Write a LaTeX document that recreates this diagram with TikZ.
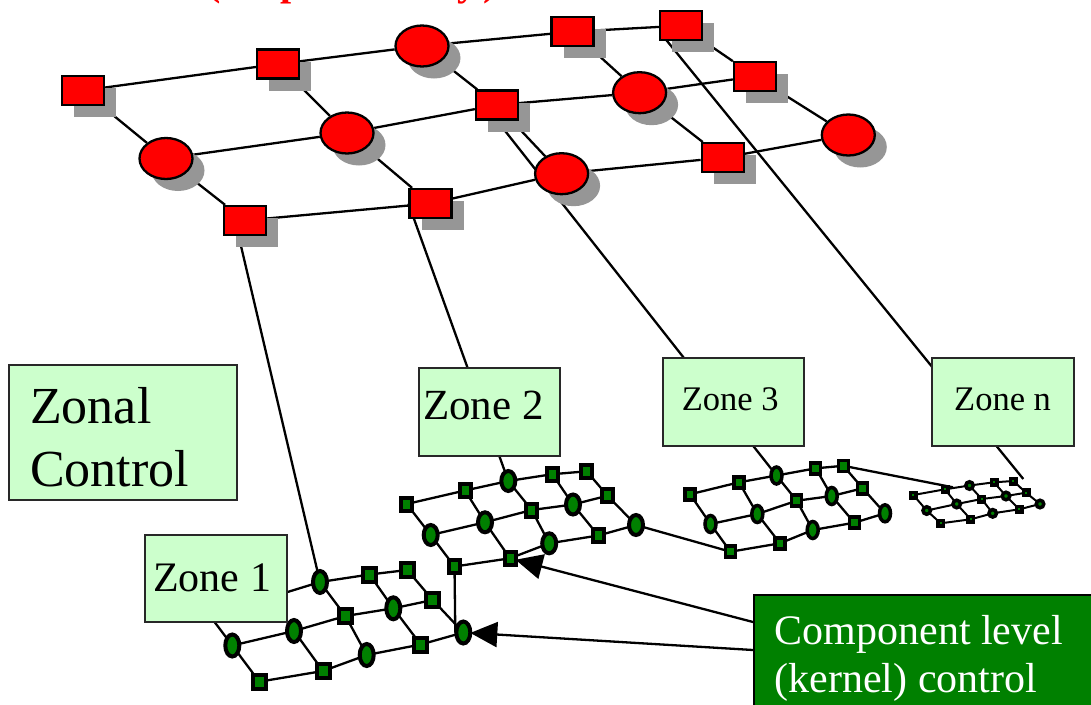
\documentclass[tikz,border=0pt]{standalone}
\usepackage{fontspec}
\setmainfont{Liberation Serif}
\usetikzlibrary{shadows,arrows.meta,shapes.geometric}
\definecolor{nodered}{RGB}{255,0,0}
\definecolor{shadowgray}{RGB}{150,150,150}
\definecolor{kernelgreen}{RGB}{0,128,0}
\definecolor{zonefill}{RGB}{204,255,204}
\definecolor{zoneedge}{RGB}{40,40,40}
\pgfdeclarelayer{links}
\pgfsetlayers{links,main}
\begin{document}
\begin{tikzpicture}[x=1pt,y=-1pt,
  wire/.style={line width=2.3pt,draw=black},
  thinwire/.style={line width=2pt,draw=black},
  redshadow/.style={drop shadow={shadow xshift=12pt,shadow yshift=-12pt,fill=shadowgray,opacity=1}},
  rsq/.style={rectangle,draw=black,line width=2.3pt,fill=nodered,minimum width=42pt,minimum height=29pt,inner sep=0pt,redshadow},
  rel/.style={ellipse,draw=black,line width=2.3pt,fill=nodered,minimum width=53pt,minimum height=41pt,inner sep=0pt,redshadow},
  gnode/.style={draw=black,fill=kernelgreen,inner sep=0pt,outer sep=0pt},
  g1sq/.style={gnode,rectangle,line width=4pt,minimum width=13pt,minimum height=14pt},
  g1el/.style={gnode,ellipse,line width=4pt,minimum width=14pt,minimum height=22pt},
  g2sq/.style={gnode,rectangle,line width=4pt,minimum width=11pt,minimum height=13pt},
  g2el/.style={gnode,ellipse,line width=4pt,minimum width=14pt,minimum height=20pt},
  g3sq/.style={gnode,rectangle,line width=3.5pt,minimum width=10pt,minimum height=11pt},
  g3el/.style={gnode,ellipse,line width=3.5pt,minimum width=11pt,minimum height=17pt},
  gnsq/.style={gnode,rectangle,line width=3.5pt,minimum width=5.5pt,minimum height=5.5pt},
  gnel/.style={gnode,ellipse,line width=3.5pt,minimum width=7.5pt,minimum height=7.5pt},
  zonebox/.style={rectangle,draw=zoneedge,line width=2pt,fill=zonefill,inner sep=0pt,anchor=north west},
  ztext/.style={inner sep=0pt,anchor=base west},
  kerneltext/.style={inner sep=0pt,anchor=base west,text=white,font=\fontsize{42}{48}\selectfont},
  titlefrag/.style={inner sep=0pt,anchor=base west,text=nodered,font=\bfseries\fontsize{40}{46}\selectfont},
  pointer/.style={wire,-{Triangle[length=27pt,width=25pt]}}
]
\useasboundingbox (0,0) rectangle (1091,704);
\clip (0,0) rectangle (1091,704);

% heading, mostly outside the page
\node[titlefrag] (tf1) at (207,-5) {(};
\node[titlefrag] (tf2) at (280,-5) {p};
\node[titlefrag] (tf3) at (457,-5) {y};
\node[titlefrag] (tf4) at (483,-5) {)};

% upper-level network
\node[rsq] (A1) at (83,90.5) {};
\node[rsq] (A2) at (278,64) {};
\node[rel] (A3) at (422,46) {};
\node[rsq] (A4) at (572.6,31.7) {};
\node[rsq] (A5) at (681,25.7) {};
\node[rel] (B1) at (166,158.5) {};
\node[rel] (B2) at (347,133) {};
\node[rsq] (B3) at (497,105) {};
\node[rel] (B4) at (639.6,92.7) {};
\node[rsq] (B5) at (755,76.3) {};
\node[rsq] (C1) at (245,220.5) {};
\node[rsq] (C2) at (430.6,203.5) {};
\node[rel] (C3) at (561.6,173.7) {};
\node[rsq] (C4) at (722.8,157.7) {};
\node[rel] (C5) at (848.3,135) {};

% zone 1 components (two of them sit under the label box)
\coordinate (g1-1-1) at (207,612);
\coordinate (g1-1-2) at (268,598);
\foreach \n/\x/\y in {g1-1-4/369.5/574.5, g1-1-5/407.3/570, g1-2-3/345.5/616, g1-2-5/432.7/600,
    g1-3-1/259.3/681.7, g1-3-2/323/671, g1-3-4/420.7/644.5}
  \node[g1sq] (\n) at (\x,\y) {};
\foreach \n/\x/\y in {g1-1-3/320/582, g1-2-1/232.3/645.5, g1-2-2/294/631, g1-2-4/393.3/608.3,
    g1-3-3/366.7/655, g1-3-5/463.3/632.5}
  \node[g1el] (\n) at (\x,\y) {};

% zone 2 components
\foreach \n/\x/\y in {g2-1-1/406.7/504, g2-1-2/465/490.5, g2-1-4/552.3/474.2, g2-1-5/586.7/471.3,
    g2-2-3/531.7/510, g2-2-5/607.5/495.7, g2-3-1/454.5/566.5, g2-3-2/510/558.3, g2-3-4/598.3/535.5}
  \node[g2sq] (\n) at (\x,\y) {};
\foreach \n/\x/\y in {g2-1-3/508.3/481, g2-2-1/430.7/535, g2-2-2/485/522.3, g2-2-4/573/504.5,
    g2-3-3/549.2/543.3, g2-3-5/636/525}
  \node[g2el] (\n) at (\x,\y) {};

% zone 3 components
\foreach \n/\x/\y in {g3-1-1/690/494.3, g3-1-2/739/482.3, g3-1-4/815.7/468.3, g3-1-5/843.3/465.8,
    g3-2-3/796.7/500.7, g3-2-5/862.7/488.3, g3-3-1/730.5/551.7, g3-3-2/780/543.3, g3-3-4/854.3/522.7}
  \node[g3sq] (\n) at (\x,\y) {};
\foreach \n/\x/\y in {g3-1-3/776.5/475.5, g3-2-1/710.5/524, g3-2-2/757.3/514, g3-2-4/831.7/496,
    g3-3-3/812.7/530, g3-3-5/885/513.3}
  \node[g3el] (\n) at (\x,\y) {};

% zone n components
\foreach \n/\x/\y in {gn-1-1/913.3/495, gn-1-2/945/489.3, gn-1-4/994/482.3, gn-1-5/1013.3/481,
    gn-2-3/981.7/499, gn-2-5/1026/492.7, gn-3-1/940.7/523.3, gn-3-2/970.7/519.3, gn-3-4/1019.3/509.3}
  \node[gnsq] (\n) at (\x,\y) {};
\foreach \n/\x/\y in {gn-1-3/969.5/485.5, gn-2-1/926.7/510.5, gn-2-2/956.7/504, gn-2-4/1006/496,
    gn-3-3/992.7/513.3, gn-3-5/1040/504}
  \node[gnel] (\n) at (\x,\y) {};

% zone labels
\node[zonebox,minimum width=228pt,minimum height=135pt] (zc) at (8,364) {};
\node[ztext,font=\fontsize{52}{60}\selectfont] (zcl1) at (30,423.3) {Zonal};
\node[ztext,font=\fontsize{52}{60}\selectfont] (zcl2) at (30,486.7) {Control};
\node[zonebox,minimum width=142pt,minimum height=87pt] (z1) at (144,534) {};
\node[ztext,font=\fontsize{42}{48}\selectfont] (z1l) at (153,591) {Zone 1};
\node[zonebox,minimum width=141pt,minimum height=88pt] (z2) at (418,367) {};
\node[ztext,font=\fontsize{43}{50}\selectfont] (z2l) at (423,419) {Zone 2};
\node[zonebox,minimum width=141pt,minimum height=88pt] (z3) at (662,357) {};
\node[ztext,font=\fontsize{34.5}{40}\selectfont] (z3l) at (681.7,410.7) {Zone 3};
\node[zonebox,minimum width=142pt,minimum height=88pt] (zn) at (931,357) {};
\node[ztext,font=\fontsize{34.5}{40}\selectfont] (znl) at (954,410.7) {Zone n};

% kernel-level label
\node[rectangle,draw=black,line width=2pt,fill=kernelgreen,minimum width=400pt,minimum height=150pt,anchor=north west] (kern) at (753,594) {};
\node[kerneltext] (kl1) at (774.5,644.5) {Component level};
\node[kerneltext] (kl2) at (774.5,692) {(kernel) control};

\draw[pointer] ([yshift=-28pt]kern.north west) -- (g2-3-2);
\draw[pointer] ([yshift=-56pt]kern.north west) -- (g1-3-5);

% connectors, kept beneath every node
\begin{pgfonlayer}{links}
  \foreach \r in {A,B,C}
    \draw[wire] (\r1) -- (\r2) -- (\r3) -- (\r4) -- (\r5);
  \foreach \c in {1,...,5}
    \draw[wire] (A\c) -- (B\c) -- (C\c);
  \foreach \g in {g1,g2,g3} {
    \foreach \r in {1,2,3}
      \draw[wire] (\g-\r-1) -- (\g-\r-2) -- (\g-\r-3) -- (\g-\r-4) -- (\g-\r-5);
    \foreach \c in {1,...,5}
      \draw[wire] (\g-1-\c) -- (\g-2-\c) -- (\g-3-\c);
  }
  \foreach \r in {1,2,3}
    \draw[thinwire] (gn-\r-1) -- (gn-\r-2) -- (gn-\r-3) -- (gn-\r-4) -- (gn-\r-5);
  \foreach \c in {1,...,5}
    \draw[thinwire] (gn-1-\c) -- (gn-2-\c) -- (gn-3-\c);
  % zone links to the upper network
  \draw[wire] ([xshift=-10pt]C1.center) -- (g1-1-3);
  \draw[wire] (C2.west) -- (g2-1-3);
  \draw[wire] (B3.south) -- (g3-1-3);
  \draw[wire] ([xshift=-15pt,yshift=-14pt]A5.center) -- ([xshift=10pt,yshift=2pt]gn-1-5.center);
  % links between neighbouring zones
  \draw[wire] (g2-3-5) -- (g3-3-1);
  \draw[wire] (g3-1-5) -- ([xshift=8pt,yshift=2pt]gn-1-2.center);
  \draw[wire] (g2-3-1) -- ([xshift=-8pt]g1-3-5.center);
\end{pgfonlayer}
\end{tikzpicture}
\end{document}
